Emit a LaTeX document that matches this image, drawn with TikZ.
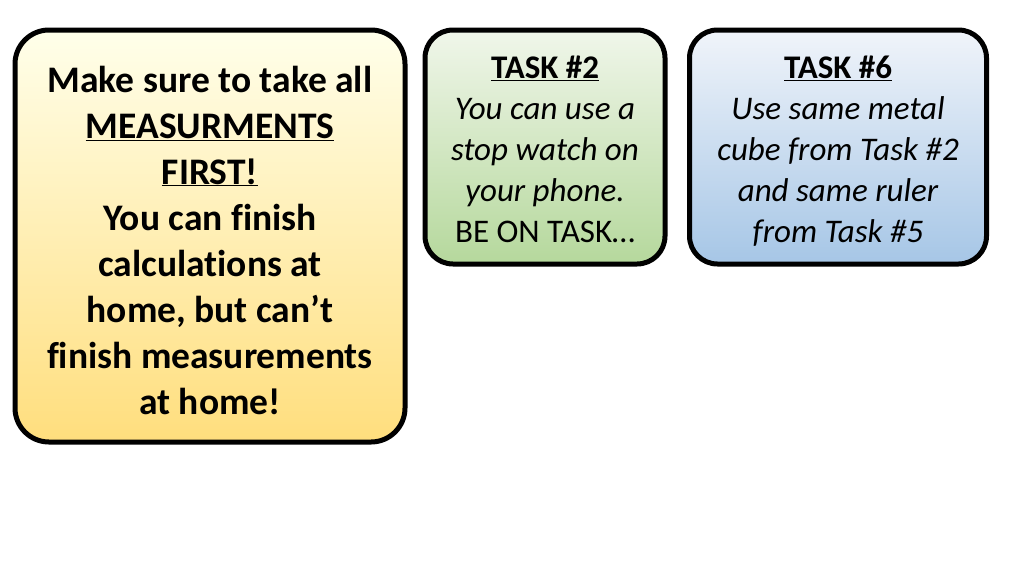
\documentclass[tikz,border=0pt]{standalone}
\usepackage{fontspec}
\setmainfont[Ligatures=NoCommon]{Carlito}
\begin{document}
\begin{tikzpicture}[x=1pt,y=-1pt,
  card/.style={draw=black,line width=5pt,rounded corners=34pt,shading=axis,inner sep=0pt},
  big/.style={font=\fontsize{37.5}{46}\selectfont\bfseries,align=center},
  small/.style={font=\fontsize{33}{41}\selectfont\itshape,align=center}]
\useasboundingbox[fill=white] (0,0) rectangle (1024,576);
\node[card,top color=yellow!8,bottom color={rgb,255:red,255;green,222;blue,125},minimum width=390pt,minimum height=412pt] (b1) at (210,236) {};
\node[card,rounded corners=28pt,top color={rgb,255:red,240;green,246;blue,234},bottom color={rgb,255:red,181;green,216;blue,156},minimum width=240pt,minimum height=234pt] (b2) at (545,147) {};
\node[card,rounded corners=28pt,top color={rgb,255:red,240;green,244;blue,250},bottom color={rgb,255:red,166;green,198;blue,230},minimum width=297pt,minimum height=234pt] (b3) at (838,147) {};
\node[big] (t1) at (210,240) {Make sure to take all\\\underline{MEASURMENTS}\\\underline{FIRST!}\\You can finish\\calculations at\\home, but can’t\\finish measurements\\at home!};
\node[small] (t2) at (545,149) {{\upshape\bfseries\underline{TASK \#2}}\\You can use a\\stop watch on\\your phone.\\{\upshape BE ON TASK…}};
\node[small] (t3) at (838,151) {{\upshape\bfseries\underline{TASK \#6}}\\Use same metal\\cube from Task \#2\\and same ruler\\from Task \#5};
\end{tikzpicture}
\end{document}
